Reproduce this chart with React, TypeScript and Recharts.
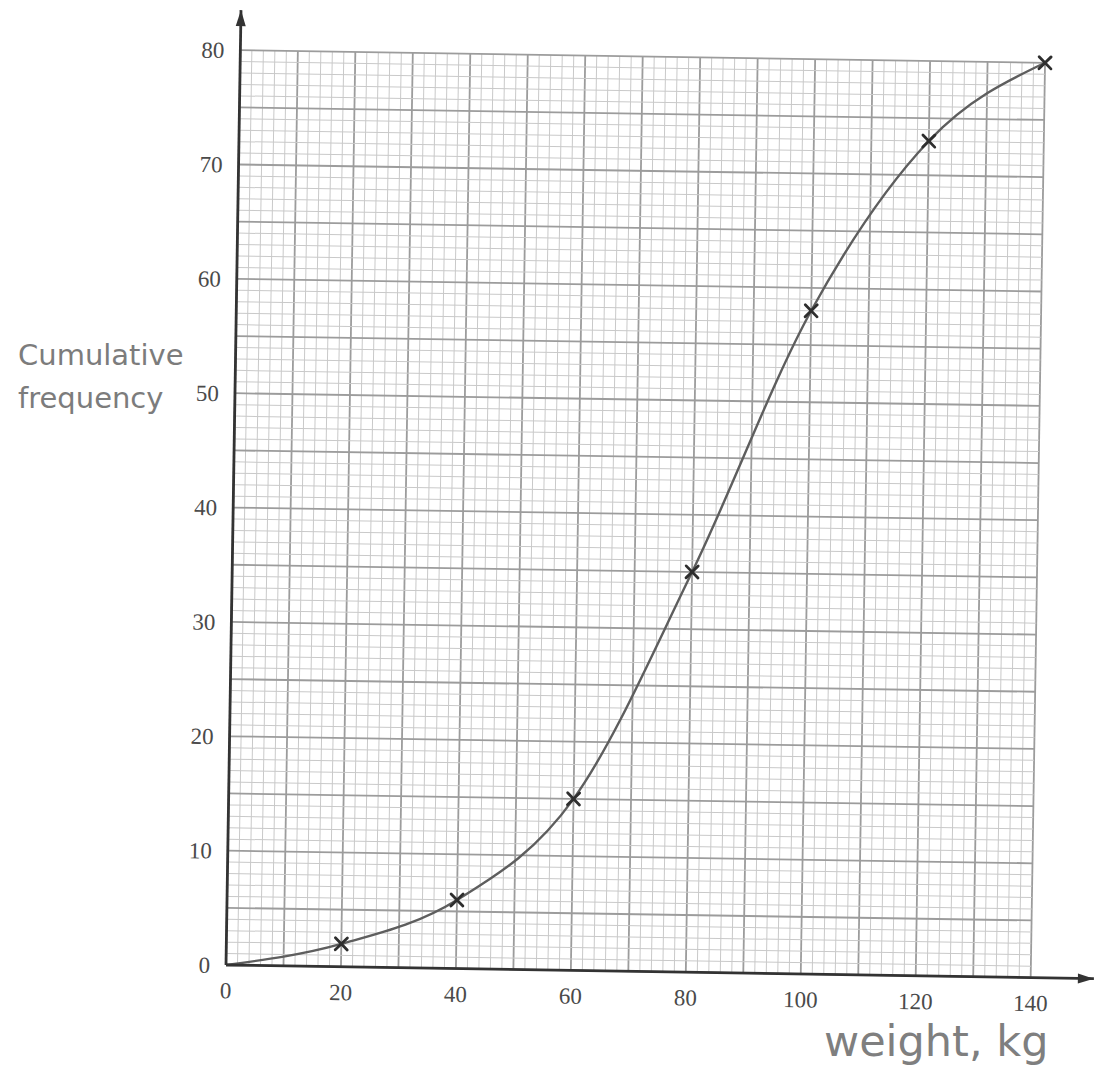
import React from 'react';
import { LineChart, Line, XAxis, YAxis, ReferenceLine, ReferenceDot } from 'recharts';

// cumulative frequency table
const weights = [0, 20, 40, 60, 80, 100, 120, 140];
const cumFreq = [0, 2, 6, 15, 35, 58, 73, 80];

const xTicks = [0, 20, 40, 60, 80, 100, 120, 140];
const yTicks = [0, 10, 20, 30, 40, 50, 60, 70, 80];

const X_MAX = 140;
const Y_MAX = 80;

const data = weights.map((w, i) => ({ w, cf: cumFreq[i] }));

// graph paper: minor every 2 kg / 1 unit, bold every 10 kg / 5 units
const vLines = Array.from({ length: X_MAX / 2 + 1 }, (_, i) => i * 2);
const hLines = Array.from({ length: Y_MAX + 1 }, (_, i) => i);

const MINOR = '#c9c9c9';
const MAJOR = '#9c9c9c';

const tickStyle = { fontFamily: '"Liberation Serif", "Times New Roman", serif', fontSize: 23, fill: '#4a4a4a' };
const handFont = '"Comic Sans MS", "DejaVu Sans", sans-serif';

const Cross = (props: any) => {
  const { cx, cy, payload, index } = props;
  if (payload.w === 0 || cx == null) return <g key={`c-${index}`} />;
  const s = 6;
  return (
    <g key={`c-${index}`} stroke="#2e2e2e" strokeWidth={2.8} strokeLinecap="round">
      <line x1={cx - s} y1={cy - s} x2={cx + s} y2={cy + s} />
      <line x1={cx - s} y1={cy + s} x2={cx + s} y2={cy - s} />
    </g>
  );
};

const ArrowRight = (props: any) => {
  const { cx, cy } = props;
  return <path d={`M${cx} ${cy} L${cx - 16} ${cy - 5} L${cx - 16} ${cy + 5} Z`} fill="#333" />;
};

const ArrowUp = (props: any) => {
  const { cx, cy } = props;
  return <path d={`M${cx} ${cy} L${cx - 5} ${cy + 16} L${cx + 5} ${cy + 16} Z`} fill="#333" />;
};

export default function App() {
  return (
    <div style={{ position: 'relative', width: 1111, height: 1080, margin: -8, background: '#fff', overflow: 'hidden' }}>
      <div style={{ position: 'absolute', left: 0, top: 0, transform: 'rotate(0.9deg)', transformOrigin: '226px 965px' }}>
        <LineChart width={1111} height={1080} data={data} margin={{ top: 10, right: 17, left: 166, bottom: 75 }}>
          <XAxis
            type="number"
            dataKey="w"
            domain={[0, 151]}
            ticks={xTicks}
            height={40}
            tickSize={0}
            tickMargin={17}
            tick={tickStyle}
            axisLine={{ stroke: '#333', strokeWidth: 2.8 }}
            allowDataOverflow
          />
          <YAxis
            type="number"
            domain={[0, 83.5]}
            ticks={yTicks}
            width={60}
            tickSize={0}
            tickMargin={16}
            tick={tickStyle}
            axisLine={{ stroke: '#333', strokeWidth: 2.8 }}
            allowDataOverflow
          />
          {vLines.map((x) => (
            <ReferenceLine
              key={`v-${x}`}
              segment={[{ x, y: 0 }, { x, y: Y_MAX }]}
              stroke={x % 10 === 0 ? MAJOR : MINOR}
              strokeWidth={x % 10 === 0 ? 1.8 : 1}
            />
          ))}
          {hLines.map((y) => (
            <ReferenceLine
              key={`h-${y}`}
              segment={[{ x: 0, y }, { x: X_MAX, y }]}
              stroke={y % 5 === 0 ? MAJOR : MINOR}
              strokeWidth={y % 5 === 0 ? 1.8 : 1}
            />
          ))}
          <ReferenceDot x={151} y={0} r={0} shape={ArrowRight} />
          <ReferenceDot x={0} y={83.5} r={0} shape={ArrowUp} />
          <Line
            type="monotone"
            dataKey="cf"
            stroke="#5e5e5e"
            strokeWidth={2.4}
            dot={Cross}
            activeDot={false}
            isAnimationActive={false}
          />
        </LineChart>
      </div>
      <div style={{ position: 'absolute', left: 18, top: 334, fontFamily: handFont, fontSize: 29, lineHeight: '43px', color: '#7c7c7c' }}>
        Cumulative
        <br />
        frequency
      </div>
      <div style={{ position: 'absolute', left: 824, top: 1016, fontFamily: handFont, fontSize: 43, color: '#7f7f7f' }}>
        weight, kg
      </div>
    </div>
  );
}
